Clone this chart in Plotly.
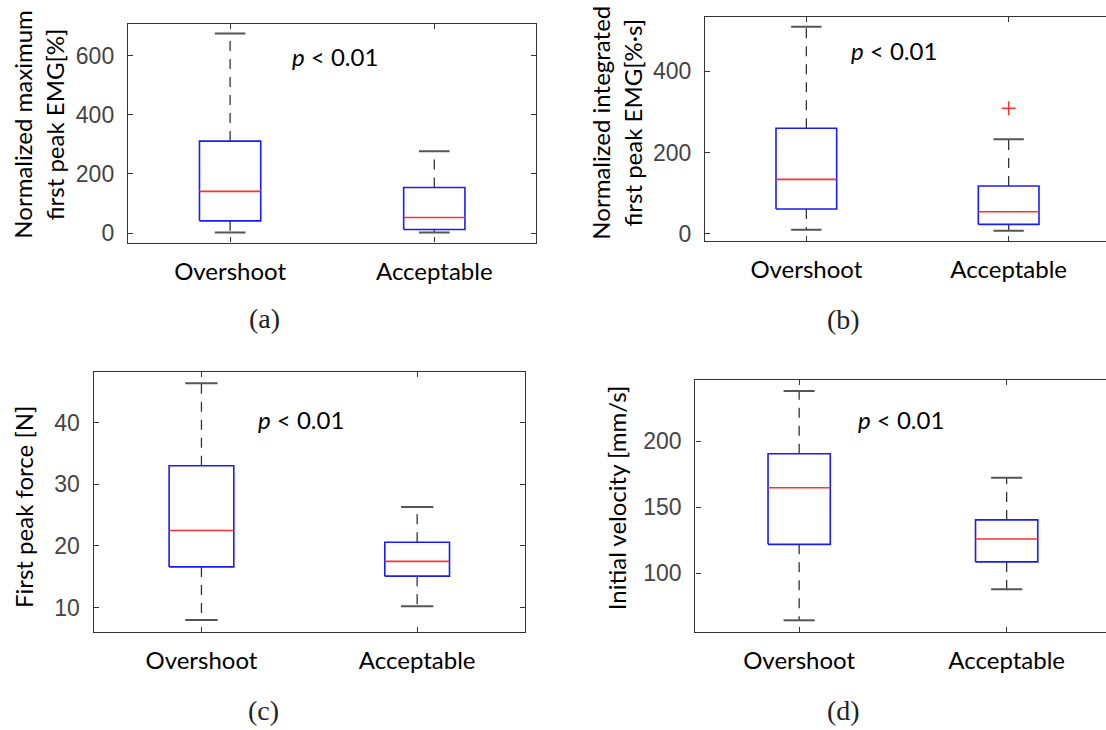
import plotly.graph_objects as go

W, H = 1106, 730

categories = ["Overshoot", "Acceptable"]

# stats per panel: [lower whisker, Q1, median, Q3, upper whisker] for Overshoot, Acceptable
emg_max_overshoot = [2, 41.6, 141, 311, 674.5]
emg_max_acceptable = [2, 12.4, 52.7, 154, 276.5]

emg_int_overshoot = [10, 61, 134, 260, 510]
emg_int_acceptable = [7.3, 23, 54, 117.5, 232.5]
emg_int_acceptable_outliers = [309]

force_overshoot = [8.0, 16.6, 22.5, 33.0, 46.4]
force_acceptable = [10.2, 15.1, 17.5, 20.6, 26.3]

vel_overshoot = [64.5, 122, 164.8, 190.5, 238]
vel_acceptable = [88, 108.7, 126, 140.5, 172.3]

panel_titles = ["Normalized maximum<br>first peak EMG[%]",
                "Normalized integrated<br>first peak EMG[%·s]",
                "First peak force [N]",
                "Initial velocity [mm/s]"]
panel_tags = ["(a)", "(b)", "(c)", "(d)"]
p_text = "<i>p</i> < 0.01"

yticks = [[0, 200, 400, 600], [0, 200, 400], [10, 20, 30, 40], [100, 150, 200]]
yranges = [[-32, 707], [-18.8, 535], [6.05, 48.2], [55.7, 246.3]]

# layout (pixel) geometry
panels = [
    dict(x0=128, x1=536.4, y0=24, y1=244.3, xr=[0.5, 2.5], cut=False),
    dict(x0=705.2, x1=1106, y0=16.7, y1=243, xr=[0.5, 0.5 + (1106 - 705.2) / 202.3], cut=True),
    dict(x0=93.6, x1=525, y0=374.7, y1=636.3, xr=[0.5, 2.5], cut=False),
    dict(x0=695.4, x1=1106, y0=382.7, y1=636.3, xr=[0.5, 0.5 + (1106 - 695.4) / 207.5], cut=True),
]
data = [
    (emg_max_overshoot, emg_max_acceptable, []),
    (emg_int_overshoot, emg_int_acceptable, emg_int_acceptable_outliers),
    (force_overshoot, force_acceptable, []),
    (vel_overshoot, vel_acceptable, []),
]
title_pos = [(38.5, 125), (616.5, 124), (23, 510.5), (616, 501.7)]
p_pos = [(335, 57), (894, 51), (301, 422), (901, 422)]
tag_pos = [(264, 321), (843, 322), (263, 715), (843, 715)]

fig = go.Figure()

BW = 0.15   # half box width
CW = 0.075  # half cap width


def add_box(i, xc, st, outl):
    lo, q1, med, q3, hi = st
    xa = "x" if i == 0 else f"x{i+1}"
    ya = "y" if i == 0 else f"y{i+1}"
    common = dict(xaxis=xa, yaxis=ya, showlegend=False, hoverinfo="skip", mode="lines")
    fig.add_trace(go.Scatter(x=[xc, xc, None, xc, xc], y=[q3, hi, None, q1, lo],
                             line=dict(color="#333333", width=1.3, dash="10px,8px"), **common))
    fig.add_trace(go.Scatter(x=[xc - CW, xc + CW, None, xc - CW, xc + CW], y=[hi, hi, None, lo, lo],
                             line=dict(color="#555555", width=2), **common))
    fig.add_trace(go.Scatter(x=[xc - BW, xc + BW, xc + BW, xc - BW, xc - BW], y=[q1, q1, q3, q3, q1],
                             line=dict(color="#1a1aff", width=1.6), **common))
    fig.add_trace(go.Scatter(x=[xc - BW, xc + BW], y=[med, med],
                             line=dict(color="#ff3030", width=1.6), **common))
    if outl:
        fig.add_trace(go.Scatter(x=[xc] * len(outl), y=outl, xaxis=xa, yaxis=ya, mode="markers",
                                 marker=dict(symbol="cross-thin", size=10,
                                             line=dict(color="#ff3030", width=1.4)),
                                 showlegend=False, hoverinfo="skip"))


layout = dict(width=W, height=H, margin=dict(l=0, r=0, t=0, b=0),
              paper_bgcolor="white", plot_bgcolor="white", showlegend=False)
annotations = []

for i, p in enumerate(panels):
    o, a, outl = data[i]
    add_box(i, 1, o, [])
    add_box(i, 2, a, outl)
    sx = "" if i == 0 else str(i + 1)
    layout["xaxis" + sx] = dict(
        domain=[p["x0"] / W, p["x1"] / W], range=p["xr"], anchor="y" + sx,
        tickvals=[1, 2], ticktext=categories, ticks="inside", ticklen=5, tickwidth=1.2,
        tickcolor="#333333", showline=True, linecolor="#333333", linewidth=1.4,
        mirror="ticks", showgrid=False, zeroline=False,
        tickfont=dict(family="Lato", size=24, color="black"), ticklabelstandoff=7)
    layout["yaxis" + sx] = dict(
        domain=[1 - p["y1"] / H, 1 - p["y0"] / H], range=yranges[i], anchor="x" + sx,
        tickvals=yticks[i], ticks="inside", ticklen=5, tickwidth=1.2,
        tickcolor="#333333", showline=True, linecolor="#333333", linewidth=1.4,
        mirror=(False if p["cut"] else "ticks"), showgrid=False, zeroline=False,
        tickfont=dict(family="Liberation Sans", size=23, color="#444444"), ticklabelstandoff=8)
    tx, ty = title_pos[i]
    annotations.append(dict(text=panel_titles[i], x=tx / W, y=1 - ty / H, xref="paper", yref="paper",
                            xanchor="center", yanchor="middle", textangle=-90, showarrow=False,
                            font=dict(family="Lato", size=24, color="black")))
    px, py = p_pos[i]
    annotations.append(dict(text=p_text, x=px / W, y=1 - py / H, xref="paper", yref="paper",
                            xanchor="center", yanchor="middle", showarrow=False,
                            font=dict(family="Lato", size=24, color="black")))
    gx, gy = tag_pos[i]
    annotations.append(dict(text=panel_tags[i], x=gx / W, y=1 - gy / H, xref="paper", yref="paper",
                            xanchor="center", yanchor="middle", showarrow=False,
                            font=dict(family="Liberation Serif", size=28, color="#222222")))

layout["annotations"] = annotations
fig.update_layout(**layout)
fig.write_html("out.html")
